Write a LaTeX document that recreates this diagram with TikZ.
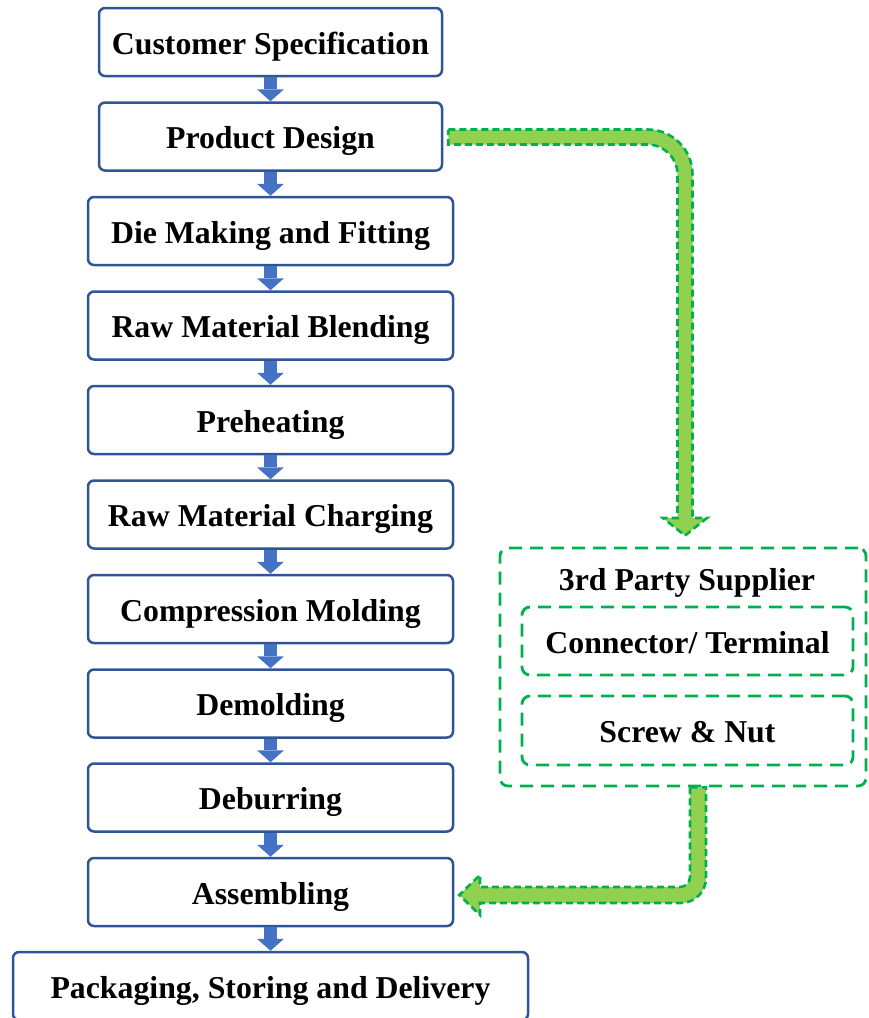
\documentclass[tikz,border=0pt]{standalone}
\usepackage{fontspec}
\setmainfont{Liberation Serif}
\usetikzlibrary{arrows.meta,calc}
\definecolor{boxblue}{HTML}{2F5597}
\definecolor{arrblue}{HTML}{4472C4}
\definecolor{lgreen}{HTML}{92D050}
\definecolor{dgreen}{HTML}{00B050}
\tikzset{
  txt/.style={font=\fontsize{31.8}{36}\selectfont\bfseries, text height=24pt, text depth=0pt},
  stepbox/.style={draw=boxblue, line width=2.5pt, rounded corners=6pt, fill=white,
    minimum height=68pt, inner sep=0pt, txt},
  flowarrow/.style={draw=arrblue, line width=13pt,
    -{Triangle[width=27pt,length=12pt,line width=0pt,fill=arrblue]}},
  supbox/.style={draw=dgreen, line width=2.8pt, dash pattern=on 13pt off 8pt, rounded corners=8pt,
    inner sep=0pt},
  subbox/.style={draw=dgreen, line width=2.8pt, dash pattern=on 13pt off 8pt, rounded corners=8pt,
    minimum width=331pt, inner sep=0pt, txt},
  greenarrow/.style={fill=lgreen, draw=dgreen, line width=2.6pt, dash pattern=on 7pt off 4pt},
  lbl/.style={inner sep=0pt, txt}
}
\begin{document}
\begin{tikzpicture}[x=1pt,y=1pt]
\useasboundingbox (0,0) rectangle (868,-1018);
\clip (0,0) rectangle (868,-1018);
% main flow
\node[stepbox, minimum width=343pt] (cs) at (270.5,-42) {Customer Specification};
\node[stepbox, minimum width=343pt] (pd) at (270.5,-136.5) {Product Design};
\node[stepbox, minimum width=365pt] (dm) at (270.5,-231) {Die Making and Fitting};
\node[stepbox, minimum width=365pt] (rb) at (270.5,-325.5) {Raw Material Blending};
\node[stepbox, minimum width=365pt] (ph) at (270.5,-420) {Preheating};
\node[stepbox, minimum width=365pt] (rc) at (270.5,-514.5) {Raw Material Charging};
\node[stepbox, minimum width=365pt] (cm) at (270.5,-609) {Compression Molding};
\node[stepbox, minimum width=365pt] (de) at (270.5,-703.5) {Demolding};
\node[stepbox, minimum width=365pt] (db) at (270.5,-797.5) {Deburring};
\node[stepbox, minimum width=365pt] (as) at (270.5,-892) {Assembling};
\node[stepbox, minimum width=515pt] (pk) at (270.5,-986) {Packaging, Storing and Delivery};
% blue connectors
\foreach \a/\b in {cs/pd,pd/dm,dm/rb,rb/ph,ph/rc,rc/cm,cm/de,de/db,db/as,as/pk}
  \draw[flowarrow] (\a.south) -- (\b.north);
% supplier group
\node[supbox, minimum width=366pt, minimum height=238pt] (sup) at (683,-667) {};
\node[lbl] (supt) at (687,-578) {3rd Party Supplier};
\node[subbox, minimum height=68pt] (ct) at (687.5,-641) {Connector/ Terminal};
\node[subbox, minimum height=69pt] (sn) at (687.5,-730.5) {Screw \& Nut};
% green arrow from Product Design to supplier
\draw[greenarrow] ($(pd.east)+(5,7)$) coordinate (g1)
  -- (647.5,-129.5) arc[start angle=90,end angle=0,radius=45]
  -- (692.5,-518) -- (707,-518) -- ($(sup.north)+(2,11)$) coordinate (g2)
  -- (663,-518) -- (677.5,-518) -- (677.5,-174.5)
  arc[start angle=0,end angle=90,radius=30]
  -- ($(pd.east)+(5,-8)$) -- cycle;
% green arrow from supplier to Assembling
\draw[greenarrow] ($(sup.south)+(7,0)$) coordinate (g3)
  -- (690,-877) arc[start angle=0,end angle=-90,radius=10]
  -- (480,-887) -- (480,-875) -- ($(as.east)+(5,-3)$) coordinate (g4)
  -- (480,-915) -- (480,-903) -- (681,-903)
  arc[start angle=-90,end angle=0,radius=25]
  -- ($(sup.south)+(23,0)$) -- cycle;
\end{tikzpicture}
\end{document}
